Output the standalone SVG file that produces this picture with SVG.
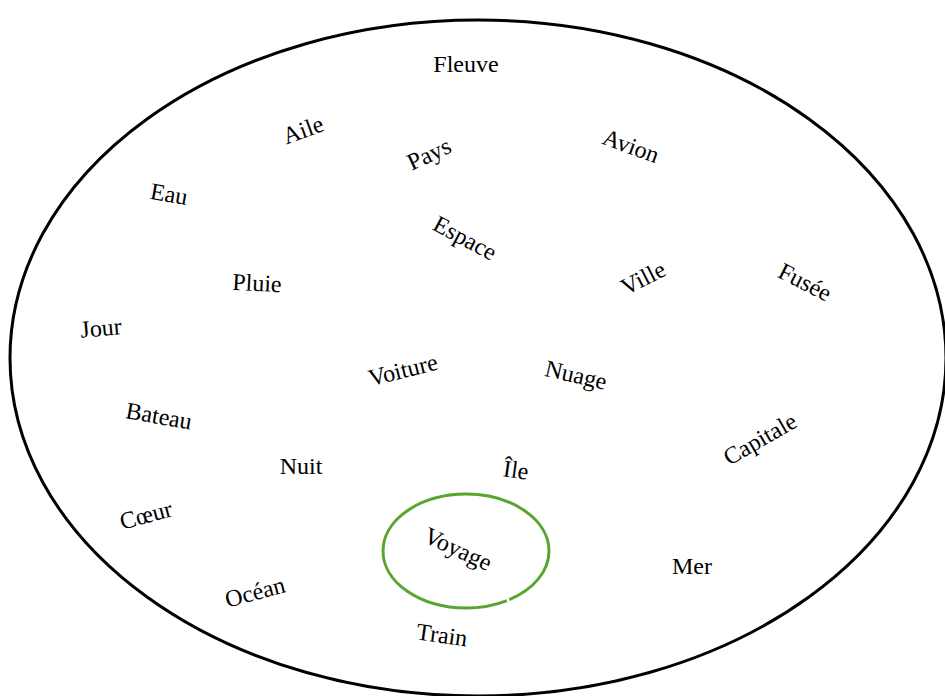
<svg xmlns="http://www.w3.org/2000/svg" width="945" height="696" viewBox="0 0 945 696">
<style>
.w{font-family:"Liberation Serif","Times New Roman",serif;font-size:24px;fill:#000;text-anchor:middle;dominant-baseline:central}
</style>
<rect width="945" height="696" fill="#fff"/>
<g id="frame"><ellipse cx="478" cy="358" rx="468" ry="338" fill="none" stroke="#000" stroke-width="3"/></g>
<g id="highlight"><ellipse cx="466" cy="551" rx="83" ry="57" fill="none" stroke="#5aa532" stroke-width="3" pathLength="360" stroke-dasharray="54 2 304"/></g>
<g id="words">
<g id="n-fleuve"><text class="w" transform="translate(466,64)">Fleuve</text></g>
<g id="n-aile"><text class="w" transform="translate(303,130) rotate(-20)">Aile</text></g>
<g id="n-pays"><text class="w" transform="translate(429,154) rotate(-25)">Pays</text></g>
<g id="n-avion"><text class="w" transform="translate(631,146) rotate(20)">Avion</text></g>
<g id="n-eau"><text class="w" transform="translate(169,194) rotate(10)">Eau</text></g>
<g id="n-espace"><text class="w" transform="translate(465,238) rotate(28)">Espace</text></g>
<g id="n-ville"><text class="w" transform="translate(643,278) rotate(-27)">Ville</text></g>
<g id="n-fusee"><text class="w" transform="translate(805,282) rotate(27)">Fusée</text></g>
<g id="n-pluie"><text class="w" transform="translate(257,283) rotate(3)">Pluie</text></g>
<g id="n-jour"><text class="w" transform="translate(101,328) rotate(-5)">Jour</text></g>
<g id="n-voiture"><text class="w" transform="translate(403,370) rotate(-14)">Voiture</text></g>
<g id="n-nuage"><text class="w" transform="translate(576,375) rotate(13)">Nuage</text></g>
<g id="n-bateau"><text class="w" transform="translate(159,416) rotate(10)">Bateau</text></g>
<g id="n-nuit"><text class="w" transform="translate(301,466)">Nuit</text></g>
<g id="n-ile"><text class="w" transform="translate(516,470) rotate(8)">Île</text></g>
<g id="n-capitale"><text class="w" transform="translate(760,439) rotate(-30)">Capitale</text></g>
<g id="n-coeur"><text class="w" transform="translate(146,515) rotate(-15)">Cœur</text></g>
<g id="n-voyage"><text class="w" transform="translate(458,549) rotate(25)">Voyage</text></g>
<g id="n-mer"><text class="w" transform="translate(692,566)">Mer</text></g>
<g id="n-ocean"><text class="w" transform="translate(255,592) rotate(-15)">Océan</text></g>
<g id="n-train"><text class="w" transform="translate(442,635) rotate(8)">Train</text></g>
</g>
<g id="connectors"></g>
</svg>
